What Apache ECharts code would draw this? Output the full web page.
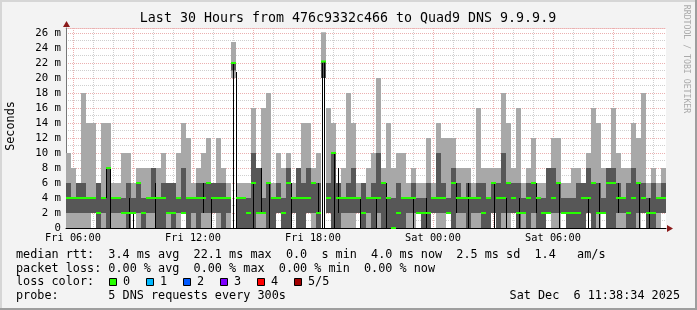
<!DOCTYPE html>
<html>
<head>
<meta charset="utf-8">
<script src="https://cdn.jsdelivr.net/npm/echarts@6/dist/echarts.min.js"></script>
<style>
html, body { margin: 0; padding: 0; background: #f3f3f3; }
#chart { width: 697px; height: 310px; }
</style>
</head>
<body>
<div id="chart"></div>
<script>
// time axis in minutes from Fri 05:39 to Sat 11:39 (30 hours)
var TOTAL = 1800;
var STEP = 15; // one smoke column = 15 minutes
var tickMinutes = [21, 381, 741, 1101, 1461];
var tickLabels = ['Fri 06:00', 'Fri 12:00', 'Fri 18:00', 'Sat 00:00', 'Sat 06:00'];
var majorEvery = 180, minorEvery = 60;

// smoke per column (ms): lowest ping, lower dark edge, median, upper dark edge, highest ping
var lo = [0,0,0,0,0,2,0,0,0,0, 0,0,0,2,0,0,0,0,0,0, 0,0,0,2,0,0,0,0,0,2,
          0,0,0,20,0,0,0,0,0,0, 0,0,2,0,0,2,0,0,2,0, 0,20,2,0,0,0,0,0,2,0,
          0,0,0,0,0,0,0,0,0,0, 2,0,0,2,0,0,2,0,0,0, 0,0,0,0,0,2,0,0,0,2,
          0,0,0,0,0,0,2,0,0,2, 0,0,0,0,2,0,0,2,0,0, 0,0,0,0,0,2,0,0,0,2];
var q1 = [2,2,2,2,2,2,0,2,0,2, 2,2,0,2,2,0,2,2,0,0, 2,0,2,2,0,2,0,2,2,2,
          2,0,2,21,0,0,0,0,2,2, 0,0,2,0,0,2,0,0,2,2, 0,20,2,0,0,2,2,2,2,0,
          2,0,2,0,0,0,0,0,2,2, 2,0,0,2,2,2,2,0,2,2, 0,2,2,0,0,2,0,2,2,2,
          0,2,0,2,0,0,2,2,2,2, 0,0,0,0,2,0,2,2,0,0, 2,2,0,0,2,2,0,0,2,2];
var med = [4,4,4,4,4,4,2,4,8,4, 4,2,2,2,6,2,4,4,4,4, 2,2,4,2,4,4,4,4,6,4,
           4,4,4,22,4,4,2,6,2,2, 6,4,4,2,6,4,4,4,4,6, 2,22.2,4,10,4,4,4,4,4,2,
           4,4,4,6,4,0,2,4,4,4, 2,2,2,4,4,4,2,6,4,4, 4,4,4,2,4,6,4,4,6,4,
           2,2,4,6,4,2,2,4,6,2, 2,2,2,4,4,6,2,2,6,6, 4,4,2,4,6,4,2,2,4,4];
var q3 = [6,4,6,6,4,4,6,4,8,4, 4,4,6,4,6,4,4,8,4,6, 6,6,4,8,4,4,6,6,6,6,
          6,6,4,22,4,4,4,10,8,4, 6,4,6,4,8,4,8,6,8,6, 6,22.2,6,10,6,4,6,8,4,6,
          4,6,10,6,4,4,6,4,4,6, 4,4,6,4,10,6,4,8,6,4, 6,4,6,6,4,6,6,10,6,6,
          6,4,6,6,4,4,8,8,6,4, 4,4,6,6,8,6,6,4,8,8, 6,4,6,8,6,6,4,6,4,6];
var hi = [10,8,6,18,14,14,6,14,14,6, 6,10,10,6,8,8,8,8,8,10, 6,6,10,14,12,6,8,10,12,6,
          12,8,6,24.8,6,6,6,16,8,16, 18,6,10,8,10,6,8,14,14,8, 10,26.1,16,14,6,8,18,14,6,6,
          8,10,20,8,14,8,10,10,6,8, 6,6,12,6,14,12,12,12,8,8, 8,6,16,8,8,8,8,18,14,8,
          16,6,8,12,6,6,8,12,12,6, 6,8,8,6,10,16,14,8,8,16, 10,8,8,14,12,18,6,8,6,8];

// thin black steps: [minute, from ms, to ms]
var blackLines = [[120,4,8],[133,0,8],[190,0,4],[200,0,2],[267,0,6],[410,2,6],[435,0,4],
  [502,0,22],[511,0,20.8],[562,0,6],[585,2,8],[608,0,6],[675,0,6],[755,2,6],[768,0,22],[775,0,22.2],
  [805,0,10],[815,2,8],[882,0,4],[930,0,4],[960,0,6],[1040,0,4],[1080,0,4],[1170,2,6],[1205,0,6],
  [1285,0,6],[1320,0,4],[1360,0,4],[1410,2,6],[1480,0,6],[1565,0,4],[1600,0,6],[1655,2,6],[1720,0,6],[1750,0,4]];

var lossLabels = ['0', '1', '2', '3', '4', '5/5'];
var lossColors = ['#26ff00', '#00b8ff', '#0059ff', '#7e00ff', '#ff0000', '#a10000'];

var MONO = '"DejaVu Sans Mono"';

var minuteCats = [];
for (var m = 0; m <= TOTAL; m++) minuteCats.push('');
tickMinutes.forEach(function (t, k) { minuteCats[t] = tickLabels[k]; });

var smokeData = hi.map(function (h, i) {
    return [i * STEP, (i + 1) * STEP, lo[i], q1[i], med[i], q3[i], h];
});

function yOf(api, v) { return api.coord([0, v])[1]; }

function renderSmoke(params, api) {
    var x0 = api.coord([api.value(0), 0])[0];
    var x1 = api.coord([api.value(1), 0])[0];
    var yLo = yOf(api, api.value(2)), yQ1 = yOf(api, api.value(3));
    var yQ3 = yOf(api, api.value(5)), yHi = yOf(api, api.value(6));
    return {
        type: 'group',
        children: [
            { type: 'rect', shape: { x: x0, y: yHi, width: x1 - x0, height: yLo - yHi }, style: { fill: '#a8a8a8' } },
            { type: 'rect', shape: { x: x0, y: yQ3, width: x1 - x0, height: yQ1 - yQ3 }, style: { fill: '#575757' } }
        ]
    };
}

function renderMedian(params, api) {
    var x0 = api.coord([api.value(0), 0])[0];
    var x1 = api.coord([api.value(1), 0])[0];
    var y = yOf(api, api.value(4));
    return { type: 'rect', shape: { x: x0, y: y - 1, width: x1 - x0, height: 2 }, style: { fill: '#26ff00' } };
}

function renderBlack(params, api) {
    var x = Math.round(api.coord([api.value(0), 0])[0]) + 0.5;
    return {
        type: 'line',
        shape: { x1: x, y1: yOf(api, api.value(1)), x2: x, y2: yOf(api, api.value(2)) },
        style: { stroke: '#000', lineWidth: 1 }
    };
}

var txt = function (x, y, s, size, extra) {
    var st = { text: s, fill: '#000', font: size + 'px ' + MONO, textVerticalAlign: 'middle' };
    for (var k in extra || {}) st[k] = extra[k];
    return { type: 'text', x: x, y: y, style: st };
};

var graphics = [
    { type: 'rect', shape: { x: 0, y: 0, width: 697, height: 2 }, style: { fill: '#d6d6d6' } },
    { type: 'rect', shape: { x: 0, y: 0, width: 2, height: 310 }, style: { fill: '#d6d6d6' } },
    { type: 'rect', shape: { x: 0, y: 308, width: 697, height: 2 }, style: { fill: '#9e9e9e' } },
    { type: 'rect', shape: { x: 695, y: 0, width: 2, height: 310 }, style: { fill: '#9e9e9e' } },
    txt(348, 19, 'Last 30 Hours from 476c9332c466 to Quad9 DNS 9.9.9.9', 13.3, { textAlign: 'center' }),
    { type: 'text', x: 11, y: 126, rotation: Math.PI / 2,
      style: { text: 'Seconds', fill: '#000', font: '11.8px ' + MONO, textAlign: 'center', textVerticalAlign: 'middle' } },
    { type: 'text', x: 686, y: 59, rotation: -Math.PI / 2,
      style: { text: 'RRDTOOL / TOBI OETIKER', fill: '#aaaaaa', font: '8.2px ' + MONO, textAlign: 'center', textVerticalAlign: 'middle' } },
    { type: 'polygon', shape: { points: [[66.5, 21], [63, 27], [70, 27]] }, style: { fill: '#8b1a1a' } },
    { type: 'polygon', shape: { points: [[673, 228.5], [667, 225], [667, 232]] }, style: { fill: '#8b1a1a' } },
    txt(16, 255, 'median rtt:  3.4 ms avg  22.1 ms max  0.0  s min  4.0 ms now  2.5 ms sd  1.4   am/s', 11.8),
    txt(16, 268.5, 'packet loss: 0.00 % avg  0.00 % max  0.00 % min  0.00 % now', 11.8),
    txt(16, 282, 'loss color:', 11.8),
    txt(16, 296, 'probe:       5 DNS requests every 300s', 11.8),
    txt(680, 296, 'Sat Dec  6 11:38:34 2025', 11.8, { textAlign: 'right' })
];
lossLabels.forEach(function (l, k) {
    var x = 109 + k * 37;
    graphics.push({ type: 'rect', shape: { x: x + 0.5, y: 278.5, width: 7, height: 7 },
        style: { fill: lossColors[k], stroke: '#000', lineWidth: 1 } });
    graphics.push(txt(x + 14, 282, l, 11.8));
});

var chart = echarts.init(document.getElementById('chart'));
chart.setOption({
    backgroundColor: '#f3f3f3',
    animation: false,
    grid: { left: 66, top: 28, width: 600, height: 200, show: true, backgroundColor: '#fff', borderWidth: 0 },
    xAxis: [
        { type: 'value', min: 0, max: TOTAL, show: false, position: 'bottom' },
        {
            type: 'category', data: minuteCats, boundaryGap: false, position: 'bottom', z: 1,
            axisLine: { show: true, lineStyle: { color: '#000', width: 1 } },
            axisTick: { show: false },
            axisLabel: {
                interval: function (i) { return minuteCats[i] !== ''; },
                color: '#000', fontFamily: MONO, fontSize: 10.3, margin: 5
            },
            splitLine: {
                show: true,
                interval: function (i) { return (i - tickMinutes[0]) % majorEvery === 0; },
                lineStyle: { color: '#ebb0b0', type: [1, 1] }
            }
        },
        {
            type: 'category', data: minuteCats, boundaryGap: false, position: 'top', z: 0,
            axisLine: { show: true, lineStyle: { color: '#ebb0b0', type: [1, 1] } },
            axisTick: { show: false },
            axisLabel: { show: false },
            splitLine: {
                show: true,
                interval: function (i) {
                    var d = i - tickMinutes[0];
                    return d % minorEvery === 0 && d % majorEvery !== 0;
                },
                lineStyle: { color: '#cfcfcf', type: [1, 1] }
            }
        }
    ],
    yAxis: [
        {
            type: 'value', min: 0, max: 26.667, interval: 2, position: 'left', z: 1,
            axisLine: { show: true, lineStyle: { color: '#777' } },
            axisTick: { show: false },
            axisLabel: {
                color: '#000', fontFamily: MONO, fontSize: 10.7, margin: 5,
                formatter: function (v) {
                    if (v === 0) return '0';
                    if (Math.abs(v % 2) > 1e-6) return '';
                    return v + ' m';
                }
            },
            splitLine: { show: true, lineStyle: { color: '#ebb0b0', type: [1, 1] } }
        },
        {
            type: 'value', min: 0, max: 26.667, interval: 1, position: 'left', z: 0,
            axisLine: { show: false }, axisTick: { show: false }, axisLabel: { show: false },
            splitLine: { show: true, lineStyle: { color: '#cfcfcf', type: [1, 1] } }
        }
    ],
    series: [
        { type: 'custom', xAxisIndex: 0, yAxisIndex: 0, renderItem: renderSmoke, data: smokeData,
          encode: { x: [0, 1], y: [2, 6] }, z: 2 },
        { type: 'custom', xAxisIndex: 0, yAxisIndex: 0, renderItem: renderBlack, data: blackLines,
          encode: { x: 0, y: [1, 2] }, z: 3 },
        { type: 'custom', xAxisIndex: 0, yAxisIndex: 0, renderItem: renderMedian, data: smokeData,
          encode: { x: [0, 1], y: 4 }, z: 4 }
    ],
    graphic: graphics
});
</script>
</body>
</html>
